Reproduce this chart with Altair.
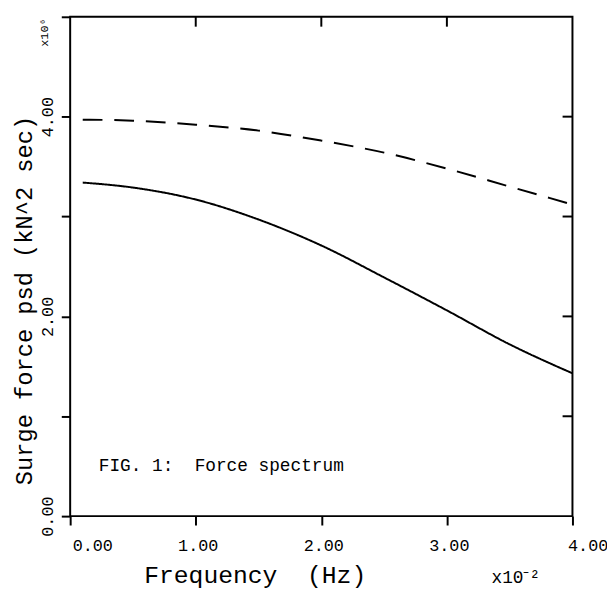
import altair as alt
import pandas as pd

# Frequency (x10^-2 Hz)
freq = [0.1, 0.5, 1.0, 1.5, 2.0, 2.5, 3.0, 3.5, 4.0]
# Surge force psd (x10^6 kN^2 sec)
solid_vals = [3.34, 3.29, 3.17, 2.97, 2.71, 2.39, 2.06, 1.72, 1.43]
dashed_vals = [3.97, 3.96, 3.92, 3.86, 3.76, 3.64, 3.48, 3.30, 3.12]

x_ticks = [0, 1, 2, 3, 4]
y_ticks = [0, 1, 2, 3, 4, 5]
top_ticks = [1, 2, 3]
right_ticks = [1, 2, 3, 4]

W, H = 509, 506
MONO = "Liberation Mono"

df = pd.DataFrame({
    "f": freq * 2,
    "psd": solid_vals + dashed_vals,
    "series": ["solid"] * len(freq) + ["dashed"] * len(freq),
})

xscale = alt.Scale(domain=[0, 4], nice=False, zero=False)
yscale = alt.Scale(domain=[0, 5], nice=False, zero=False)

x_axis = alt.Axis(
    values=x_ticks, format=".2f", grid=False, domain=False,
    tickSize=9, tickWidth=2, tickColor="black",
    labelFont=MONO, labelFontSize=17, labelColor="black", labelPadding=13,
    labelAlign={"condition": {"test": "datum.value == 0 || datum.value == 4", "value": "left"}, "value": "center"},
    labelOffset={"condition": {"test": "datum.value == 4", "value": -5}, "value": 2},
    labelBaseline="top", labelFlush=False, labelOverlap=False,
    title="Frequency\u00a0 (Hz)", titleFont=MONO, titleFontSize=25, titleFontWeight="normal",
    titleColor="black", titleX=187, titleY=59, titleAlign="center", titleBaseline="middle",
)
y_axis = alt.Axis(
    values=y_ticks, grid=False, domain=False,
    labelExpr="datum.value % 2 == 0 ? format(datum.value, '.2f') : ''",
    tickSize=9, tickWidth=2, tickColor="black",
    labelFont=MONO, labelFontSize=17, labelColor="black", labelPadding=5,
    labelAngle=270, labelAlign="center", labelBaseline="bottom",
    labelFlush=False, labelOverlap=False,
    title="Surge force psd (kN^2 sec)", titleFont=MONO, titleFontSize=24,
    titleFontWeight="normal", titleColor="black", titleAngle=270,
    titleX=-46, titleY=287, titleAlign="center", titleBaseline="middle",
)

lines = alt.Chart(df).mark_line(color="black", strokeWidth=2, interpolate="monotone").encode(
    x=alt.X("f:Q", scale=xscale, axis=x_axis),
    y=alt.Y("psd:Q", scale=yscale, axis=y_axis),
    detail="series:N",
    strokeDash=alt.StrokeDash(
        "series:N",
        scale=alt.Scale(domain=["solid", "dashed"], range=[[1, 0], [20, 12]]),
        legend=None,
    ),
)

top_df = pd.DataFrame({"f": top_ticks})
right_df = pd.DataFrame({"psd": right_ticks})

top_rules = alt.Chart(top_df).mark_rule(color="black", strokeWidth=2).encode(
    x=alt.X("f:Q", scale=xscale, axis=x_axis),
    y=alt.value(0), y2=alt.value(10),
)
right_rules = alt.Chart(right_df).mark_rule(color="black", strokeWidth=2).encode(
    y=alt.Y("psd:Q", scale=yscale, axis=y_axis),
    x=alt.value(W - 10), x2=alt.value(W),
)

fig_text = alt.Chart(pd.DataFrame({"t": ["FIG. 1:\u00a0 Force spectrum"]})).mark_text(
    font=MONO, fontSize=18, color="black", align="left", baseline="middle"
).encode(text="t:N", x=alt.value(29), y=alt.value(455))

y_mult = alt.Chart(pd.DataFrame({"t": ["x10\u2076"]})).mark_text(
    font=MONO, fontSize=12, color="black", align="center", baseline="middle", angle=270
).encode(text="t:N", x=alt.value(-26), y=alt.value(16))

x_mult = alt.Chart(pd.DataFrame({"t": ["x10\u207b\u00b2"]})).mark_text(
    font=MONO, fontSize=18, color="black", align="left", baseline="middle"
).encode(text="t:N", x=alt.value(427), y=alt.value(569))

chart = alt.layer(lines, top_rules, right_rules, fig_text, y_mult, x_mult).properties(
    width=W, height=H,
    autosize=alt.AutoSizeParams(type="none"),
    padding={"left": 63, "top": 5, "right": 35, "bottom": 75},
    background="white",
).configure_view(stroke="black", strokeWidth=2)

chart.save("out.html", embed_options={"renderer": "svg", "actions": False})
